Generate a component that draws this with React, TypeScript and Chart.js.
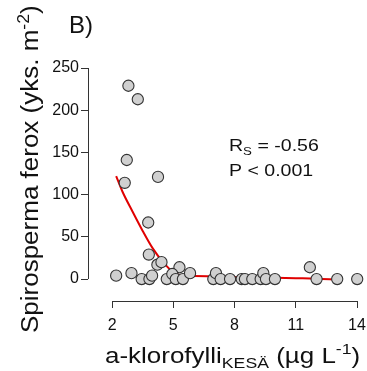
import React, { useEffect, useRef } from "react";
import { Chart, registerables } from "chart.js";

Chart.register(...registerables);

// Scatter observations: chlorophyll-a (µg/L) vs Spirosperma ferox density
const obsX = [
  2.8, 3.26, 2.72, 2.62, 4.25, 3.77, 3.8, 4.22, 4.42, 5.3,
  2.2, 2.95, 3.45, 3.83, 3.96, 4.68, 4.95, 5.12, 5.47, 5.82,
  6.96, 7.09, 7.32, 7.78, 8.35, 8.51, 8.87, 9.28, 9.41, 9.54,
  9.98, 11.69, 12.02, 13.03, 14.01,
];
const obsY = [
  229, 213, 141, 114, 121, 67, 29, 17, 20, 14,
  4, 7, 0, 0, 4, 0, 6, 0, 0, 7,
  0, 7, 0, 0, 0, 0, 0, 0, 7, 0,
  0, 14, 0, 0, 0,
];

// Smoothed (LOESS-like) fit line
const fitX = [2.2, 2.5, 3.0, 3.5, 4.0, 4.5, 5.0, 5.5, 6.0, 7.0, 8.0, 9.0, 10.0, 11.0, 12.0, 13.0];
const fitY = [122, 104, 80, 57, 36, 20, 8, 4, 3.5, 3, 2.5, 2, 1.5, 1, 0.5, -0.5];

const xTicks = [2, 5, 8, 11, 14];
const yTicks = [0, 50, 100, 150, 200, 250];

const panelLabel = "B)";
const yTitleParts = [
  { t: "Spirosperma ferox (yks. m", sub: 0 },
  { t: "-2", sub: -1 },
  { t: ")", sub: 0 },
];
const xTitleParts = [
  { t: "a-klorofylli", sub: 0 },
  { t: "KESÄ", sub: 1 },
  { t: " (µg L", sub: 0 },
  { t: "-1", sub: -1 },
  { t: ")", sub: 0 },
];
const statLine1 = [
  { t: "R", sub: 0 },
  { t: "S", sub: 1 },
  { t: " = -0.56", sub: 0 },
];
const statLine2 = [{ t: "P < 0.001", sub: 0 }];

const FONT = "'Liberation Sans', Arial, sans-serif";
const AXIS_COLOR = "#333333";
const TEXT_COLOR = "#111111";

type Part = { t: string; sub: number };

function drawRich(
  ctx: CanvasRenderingContext2D,
  parts: Part[],
  size: number,
  stretch: number
) {
  ctx.save();
  ctx.scale(stretch, 1);
  ctx.textAlign = "left";
  ctx.textBaseline = "alphabetic";
  let x = 0;
  for (const p of parts) {
    const s = p.sub === 0 ? size : size * 0.68;
    const dy = p.sub === 0 ? 0 : p.sub > 0 ? size * 0.22 : -size * 0.4;
    ctx.font = `${s}px ${FONT}`;
    ctx.fillText(p.t, x, dy);
    x += ctx.measureText(p.t).width;
  }
  ctx.restore();
}

const decorPlugin = {
  id: "decor",
  afterDraw(chart: any) {
    const ctx: CanvasRenderingContext2D = chart.ctx;
    const xs = chart.scales.x;
    const ys = chart.scales.y;
    const area = chart.chartArea;
    ctx.save();
    ctx.strokeStyle = AXIS_COLOR;
    ctx.lineWidth = 1;
    ctx.beginPath();
    const bx = Math.round(area.bottom) + 0.5;
    ctx.moveTo(xs.getPixelForValue(xTicks[0]), bx);
    ctx.lineTo(xs.getPixelForValue(xTicks[xTicks.length - 1]), bx);
    const lx = Math.round(area.left) + 0.5;
    ctx.moveTo(lx, ys.getPixelForValue(yTicks[0]));
    ctx.lineTo(lx, ys.getPixelForValue(yTicks[yTicks.length - 1]));
    ctx.stroke();

    ctx.fillStyle = TEXT_COLOR;
    ctx.font = `24px ${FONT}`;
    ctx.textAlign = "left";
    ctx.textBaseline = "alphabetic";
    ctx.fillText(panelLabel, 69, 33);

    ctx.save();
    ctx.translate(38, 333);
    ctx.rotate(-Math.PI / 2);
    drawRich(ctx, yTitleParts, 23, 1.13);
    ctx.restore();

    ctx.save();
    ctx.translate(105, 363);
    drawRich(ctx, xTitleParts, 22, 1.18);
    ctx.restore();

    ctx.save();
    ctx.translate(229, 151);
    drawRich(ctx, statLine1, 17, 1.15);
    ctx.restore();
    ctx.save();
    ctx.translate(229, 176);
    drawRich(ctx, statLine2, 17, 1.15);
    ctx.restore();

    ctx.restore();
  },
};

export default function App() {
  const ref = useRef<HTMLCanvasElement | null>(null);
  useEffect(() => {
    if (!ref.current) return;
    const points = obsX.map((x, i) => ({ x, y: obsY[i] }));
    const fit = fitX.map((x, i) => ({ x, y: fitY[i] }));
    const chart = new Chart(ref.current, {
      type: "scatter",
      data: {
        datasets: [
          {
            label: "obs",
            data: points,
            pointRadius: 5.6,
            pointBackgroundColor: "#d0d0d0",
            pointBorderColor: "#333333",
            pointBorderWidth: 1.1,
            showLine: false,
            order: 0,
            clip: false,
          } as any,
          {
            type: "line",
            label: "fit",
            data: fit,
            borderColor: "#e00000",
            borderWidth: 2,
            pointRadius: 0,
            fill: false,
            cubicInterpolationMode: "monotone",
            showLine: true,
            order: 1,
            clip: false,
          } as any,
        ],
      },
      options: {
        responsive: false,
        animation: false,
        devicePixelRatio: 1,
        layout: { padding: { top: 68, right: 10, left: 0, bottom: 0 } },
        plugins: {
          legend: { display: false },
          tooltip: { enabled: false },
          title: { display: false },
        },
        scales: {
          x: {
            type: "linear",
            min: 0.82,
            max: 14,
            afterBuildTicks: (s: any) => {
              s.ticks = xTicks.map((v) => ({ value: v }));
            },
            afterFit: (s: any) => {
              s.height = 70;
              s.paddingLeft = 0;
              s.paddingRight = 0;
            },
            border: { display: false },
            grid: {
              drawOnChartArea: false,
              drawTicks: true,
              tickLength: 7,
              color: AXIS_COLOR,
              lineWidth: 1,
            },
            ticks: {
              color: TEXT_COLOR,
              font: { family: FONT, size: 16 },
              padding: 8,
              maxRotation: 0,
              autoSkip: false,
            },
          },
          y: {
            type: "linear",
            min: -26,
            max: 250,
            afterBuildTicks: (s: any) => {
              s.ticks = yTicks.map((v) => ({ value: v }));
            },
            afterFit: (s: any) => {
              s.width = 88;
              s.paddingTop = 0;
              s.paddingBottom = 0;
            },
            border: { display: false },
            grid: {
              drawOnChartArea: false,
              drawTicks: true,
              tickLength: 7,
              color: AXIS_COLOR,
              lineWidth: 1,
            },
            ticks: {
              color: TEXT_COLOR,
              font: { family: FONT, size: 16 },
              padding: 2,
              autoSkip: false,
            },
          },
        },
      },
      plugins: [decorPlugin],
    });
    return () => chart.destroy();
  }, []);
  return (
    <div style={{ position: "absolute", left: 0, top: 0, width: 367, height: 371, background: "#fff" }}>
      <canvas ref={ref} width={367} height={371} style={{ display: "block" }} />
    </div>
  );
}
